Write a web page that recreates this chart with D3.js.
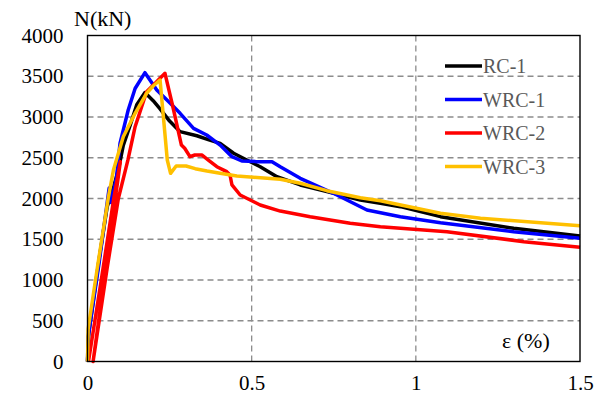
<!DOCTYPE html>
<html>
<head>
<meta charset="utf-8">
<script src="https://cdn.jsdelivr.net/npm/d3@7"></script>
</head>
<body style="margin:0; background:#fff">
<script>
// tick values
var xTicks = [0, 0.5, 1, 1.5];
var yTicks = [0, 500, 1000, 1500, 2000, 2500, 3000, 3500, 4000];

var seriesNames = ["RC-1", "WRC-1", "WRC-2", "WRC-3"];
var seriesColors = ["#000000", "#0000FF", "#FF0000", "#FFC000"];

// strain (%) , load (kN)
var rc1 = [[0,0],[0.004,350],[0.035,1250],[0.06,1900],[0.08,2150],[0.094,2350],[0.109,2650],[0.13,2900],
  [0.15,3150],[0.175,3300],[0.2,3200],[0.221,3100],[0.25,2950],[0.282,2820],[0.333,2770],[0.37,2720],
  [0.404,2677],[0.445,2555],[0.485,2472],[0.526,2390],[0.577,2268],[0.648,2166],[0.729,2084],
  [0.831,1982],[0.892,1941],[0.953,1900],[1.075,1777],[1.298,1634],[1.5,1540]];

var wrc1 = [[0,0],[0.002,300],[0.035,1200],[0.066,2130],[0.072,1950],[0.088,2250],[0.099,2677],
  [0.124,3086],[0.145,3350],[0.175,3544],[0.211,3331],[0.252,3168],[0.282,3045],[0.323,2861],
  [0.363,2779],[0.404,2656],[0.44,2513],[0.47,2460],[0.516,2452],[0.562,2452],[0.587,2390],
  [0.648,2248],[0.749,2064],[0.851,1859],[0.953,1777],[1.075,1703],[1.298,1593],[1.5,1512]];

var wrc2 = [[0.003,0],[0.04,950],[0.08,2000],[0.1,2450],[0.017,0],[0.06,1150],[0.094,2000],
  [0.123,2470],[0.145,2881],[0.18,3310],[0.206,3413],[0.236,3536],[0.26,3126],[0.286,2656],
  [0.296,2616],[0.312,2513],[0.327,2534],[0.348,2534],[0.368,2472],[0.394,2390],[0.424,2329],
  [0.434,2288],[0.44,2166],[0.465,2043],[0.526,1920],[0.587,1846],[0.678,1777],[0.8,1696],
  [0.892,1654],[1.095,1593],[1.329,1470],[1.5,1401]];

var wrc3 = [[0,0],[0.002,400],[0.03,1150],[0.063,2000],[0.079,2350],[0.109,2758],[0.145,3045],
  [0.18,3291],[0.2,3380],[0.221,3454],[0.243,2472],[0.253,2309],[0.27,2399],[0.3,2399],
  [0.328,2366],[0.364,2337],[0.404,2309],[0.455,2276],[0.505,2260],[0.587,2236],[0.648,2187],
  [0.729,2096],[0.831,2010],[0.892,1973],[1.075,1818],[1.197,1757],[1.5,1666]];

var allSeries = [rc1, wrc1, wrc2, wrc3];

var fontStyle = function(size) {
  return "font-family:'Liberation Serif', 'Times New Roman', serif; font-size:" + size + "px";
};

var screen = { width: 607, height: 403 };
var margins = { left: 87.5, top: 35.5, right: 27, bottom: 41.5 };

var xScale = d3.scaleLinear()
               .domain([0, 1.5])
               .range([margins.left, screen.width - margins.right]);

var yScale = d3.scaleLinear()
               .domain([0, 4000])
               .range([screen.height - margins.bottom, margins.top]);

var svg = d3.select("body")
            .append("svg")
            .attr("width", screen.width)
            .attr("height", screen.height);

// grid
var grid = svg.append("g").attr("class", "grid");

grid.selectAll("line.h")
    .data(yTicks.filter(function(d) { return d > 0 && d < 4000; }))
    .enter()
    .append("line")
    .attr("class", "h")
    .attr("x1", xScale(0))
    .attr("x2", xScale(1.5))
    .attr("y1", function(d) { return yScale(d); })
    .attr("y2", function(d) { return yScale(d); });

grid.selectAll("line.v")
    .data(xTicks.filter(function(d) { return d > 0 && d < 1.5; }))
    .enter()
    .append("line")
    .attr("class", "v")
    .attr("x1", function(d) { return xScale(d); })
    .attr("x2", function(d) { return xScale(d); })
    .attr("y1", yScale(0))
    .attr("y2", yScale(4000));

grid.selectAll("line")
    .attr("stroke", "#8c8c8c")
    .attr("stroke-width", 1.3)
    .attr("stroke-dasharray", "6,4");

// curves
var drawLine = d3.line()
                 .x(function(d) { return xScale(d[0]); })
                 .y(function(d) { return yScale(d[1]); });

svg.append("g")
   .attr("class", "lines")
   .selectAll("path")
   .data(allSeries)
   .enter()
   .append("path")
   .attr("d", drawLine)
   .attr("fill", "none")
   .attr("stroke", function(d, i) { return seriesColors[i]; })
   .attr("stroke-width", 3.5)
   .attr("stroke-linejoin", "round");

// frame
svg.append("rect")
   .attr("x", xScale(0))
   .attr("y", yScale(4000))
   .attr("width", xScale(1.5) - xScale(0))
   .attr("height", yScale(0) - yScale(4000))
   .attr("fill", "none")
   .attr("stroke", "#000")
   .attr("stroke-width", 1.4);

// axes
var yAxis = d3.axisLeft(yScale).tickValues(yTicks).tickSize(0).tickPadding(24)
              .tickFormat(d3.format("d"));
var xAxis = d3.axisBottom(xScale).tickValues(xTicks).tickSize(0).tickPadding(14)
              .tickFormat(function(d) { return d; });

svg.append("g")
   .attr("transform", "translate(" + xScale(0) + ",0)")
   .call(yAxis)
   .call(function(g) { g.select(".domain").remove(); })
   .selectAll("text")
   .attr("fill", "#000")
   .attr("style", fontStyle(21));

svg.append("g")
   .attr("transform", "translate(0," + yScale(0) + ")")
   .call(xAxis)
   .call(function(g) { g.select(".domain").remove(); })
   .selectAll("text")
   .attr("fill", "#000")
   .attr("style", fontStyle(21));

// axis titles
svg.append("text")
   .attr("x", 74)
   .attr("y", 26)
   .attr("style", fontStyle(22))
   .text("N(kN)");

svg.append("text")
   .attr("x", 502)
   .attr("y", 348)
   .attr("style", fontStyle(22))
   .text("ε (%)");

// legend
var legend = svg.append("g").attr("class", "legend");

var items = legend.selectAll("g")
                  .data(seriesNames)
                  .enter()
                  .append("g")
                  .attr("transform", function(d, i) { return "translate(445," + (66 + i * 33.5) + ")"; });

items.append("line")
     .attr("x1", 0)
     .attr("x2", 37)
     .attr("stroke", function(d, i) { return seriesColors[i]; })
     .attr("stroke-width", 3.5);

items.append("text")
     .attr("x", 38)
     .attr("y", 7)
     .attr("style", fontStyle(20))
     .attr("fill", "#595959")
     .text(function(d) { return d; });
</script>
</body>
</html>
